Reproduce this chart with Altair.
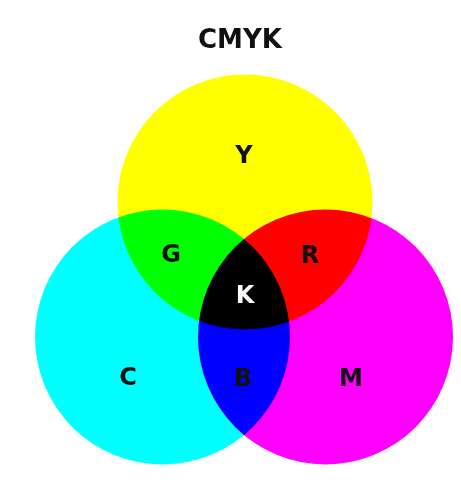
import altair as alt
import pandas as pd

# Circles (image-pixel coordinates)
circle_names = ["Y", "C", "M"]
circle_x = [245, 162.5, 325.5]
circle_y = [202, 337, 337]
circle_colors = ["#FFFF00", "#00FFFF", "#FF00FF"]
radius_px = 127.5

# Region labels
label_texts = ["Y", "G", "R", "K", "C", "B", "M"]
label_x = [244, 171, 310, 245, 128, 243, 351]
label_y = [156, 255, 256, 296, 378, 379, 379]
label_colors = ["#111111", "#111111", "#111111", "#FFFFFF", "#111111", "#111111", "#111111"]

title_text = ["CMYK"]
title_x = [240]
title_y = [40]

W, H = 445, 468
xs = alt.Scale(domain=[8, 8 + W], range=[0, W])
ys = alt.Scale(domain=[8, 8 + H], range=[0, H])

circles = pd.DataFrame({"name": circle_names, "x": circle_x, "y": circle_y, "color": circle_colors})
labels = pd.DataFrame({"t": label_texts, "x": label_x, "y": label_y, "c": label_colors})
titles = pd.DataFrame({"t": title_text, "x": title_x, "y": title_y})

circ = alt.Chart(circles).mark_circle(
    size=(2 * radius_px) ** 2, opacity=1, blend="multiply"
).encode(
    x=alt.X("x:Q", scale=xs, axis=None),
    y=alt.Y("y:Q", scale=ys, axis=None),
    color=alt.Color("color:N", scale=None),
)

lab = alt.Chart(labels).mark_text(
    font="DejaVu Sans", fontWeight="bold", fontSize=24, baseline="middle", align="center"
).encode(
    x=alt.X("x:Q", scale=xs, axis=None),
    y=alt.Y("y:Q", scale=ys, axis=None),
    text="t:N",
    color=alt.Color("c:N", scale=None),
)

ttl = alt.Chart(titles).mark_text(
    font="DejaVu Sans", fontWeight="bold", fontSize=26, baseline="middle", align="center", color="#111111"
).encode(
    x=alt.X("x:Q", scale=xs, axis=None),
    y=alt.Y("y:Q", scale=ys, axis=None),
    text="t:N",
)

chart = alt.layer(circ, lab, ttl).properties(
    width=W, height=H, autosize=alt.AutoSizeParams(type="none"), padding=0, background="white"
).configure_view(stroke=None)

chart.save("out.html", embed_options={"renderer": "svg", "actions": False})
